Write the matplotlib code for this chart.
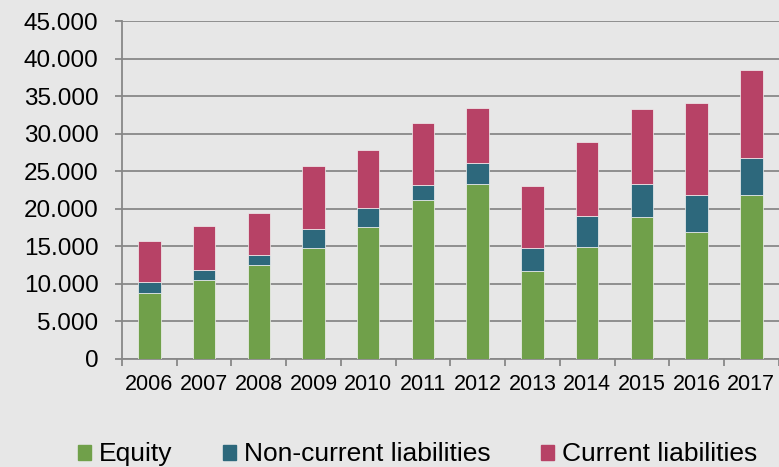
import matplotlib.pyplot as plt
from matplotlib.ticker import FuncFormatter, MultipleLocator
from matplotlib.patches import Patch

# Данные (в тысячах, чтение с картинки)
years = ['2006', '2007', '2008', '2009', '2010', '2011',
         '2012', '2013', '2014', '2015', '2016', '2017']
equity = [8750, 10500, 12500, 14750, 17600, 21200,
          23300, 11750, 14950, 18950, 16900, 21850]
non_current = [1550, 1350, 1400, 2600, 2500, 2000,
               2800, 3050, 4150, 4400, 4950, 4850]
current = [5450, 5800, 5600, 8350, 7700, 8200,
           7300, 8200, 9800, 9950, 12200, 11800]

bg = '#e7e7e7'
c_eq = '#70a04a'
c_ncl = '#2d687c'
c_cl = '#b74266'

plt.rcParams['font.family'] = ['Liberation Sans', 'DejaVu Sans']

fig = plt.figure(figsize=(7.79, 4.67), dpi=100, facecolor=bg)
ax = fig.add_axes([0.1566, 0.2313, 0.843, 0.7237])
ax.set_facecolor(bg)

x = list(range(len(years)))
bottom2 = [e + n for e, n in zip(equity, non_current)]
w = 0.41
ax.bar(x, equity, w, color=c_eq, edgecolor='#f2f2f2', linewidth=0.5, zorder=3)
ax.bar(x, non_current, w, bottom=equity, color=c_ncl, edgecolor='#f2f2f2', linewidth=0.5, zorder=3)
ax.bar(x, current, w, bottom=bottom2, color=c_cl, edgecolor='#f2f2f2', linewidth=0.5, zorder=3)

ax.set_xlim(-0.5, len(years) - 0.5)
ax.set_ylim(0, 45000)
ax.yaxis.set_major_locator(MultipleLocator(5000))
ax.yaxis.set_major_formatter(FuncFormatter(lambda v, p: f'{int(v):,}'.replace(',', '.')))
ax.grid(axis='y', color='#888888', linewidth=1.3, zorder=0)

ax.set_xticks(x)
ax.set_xticklabels(years)
ax.set_xticks([i - 0.5 for i in range(len(years) + 1)], minor=True)
ax.tick_params(axis='x', which='major', length=0, pad=11, labelsize=15.5)
ax.tick_params(axis='x', which='minor', length=5, width=1.3, color='#888888')
ax.tick_params(axis='y', length=5, width=1.3, color='#888888', pad=12, labelsize=17.5)

for s in ['top', 'right']:
    ax.spines[s].set_visible(False)
for s in ['left', 'bottom']:
    ax.spines[s].set_color('#888888')
    ax.spines[s].set_linewidth(1.3)

handles = [Patch(color=c_eq, label='Equity'),
           Patch(color=c_ncl, label='Non-current liabilities'),
           Patch(color=c_cl, label='Current liabilities')]
fig.legend(handles=handles, loc='center', bbox_to_anchor=(0.536, 0.027), ncol=3,
           frameon=False, fontsize=19, handlelength=0.5, handleheight=0.5,
           handletextpad=0.3, columnspacing=1.9, borderaxespad=0)

fig.savefig('out.png', dpi=100, facecolor=bg)
